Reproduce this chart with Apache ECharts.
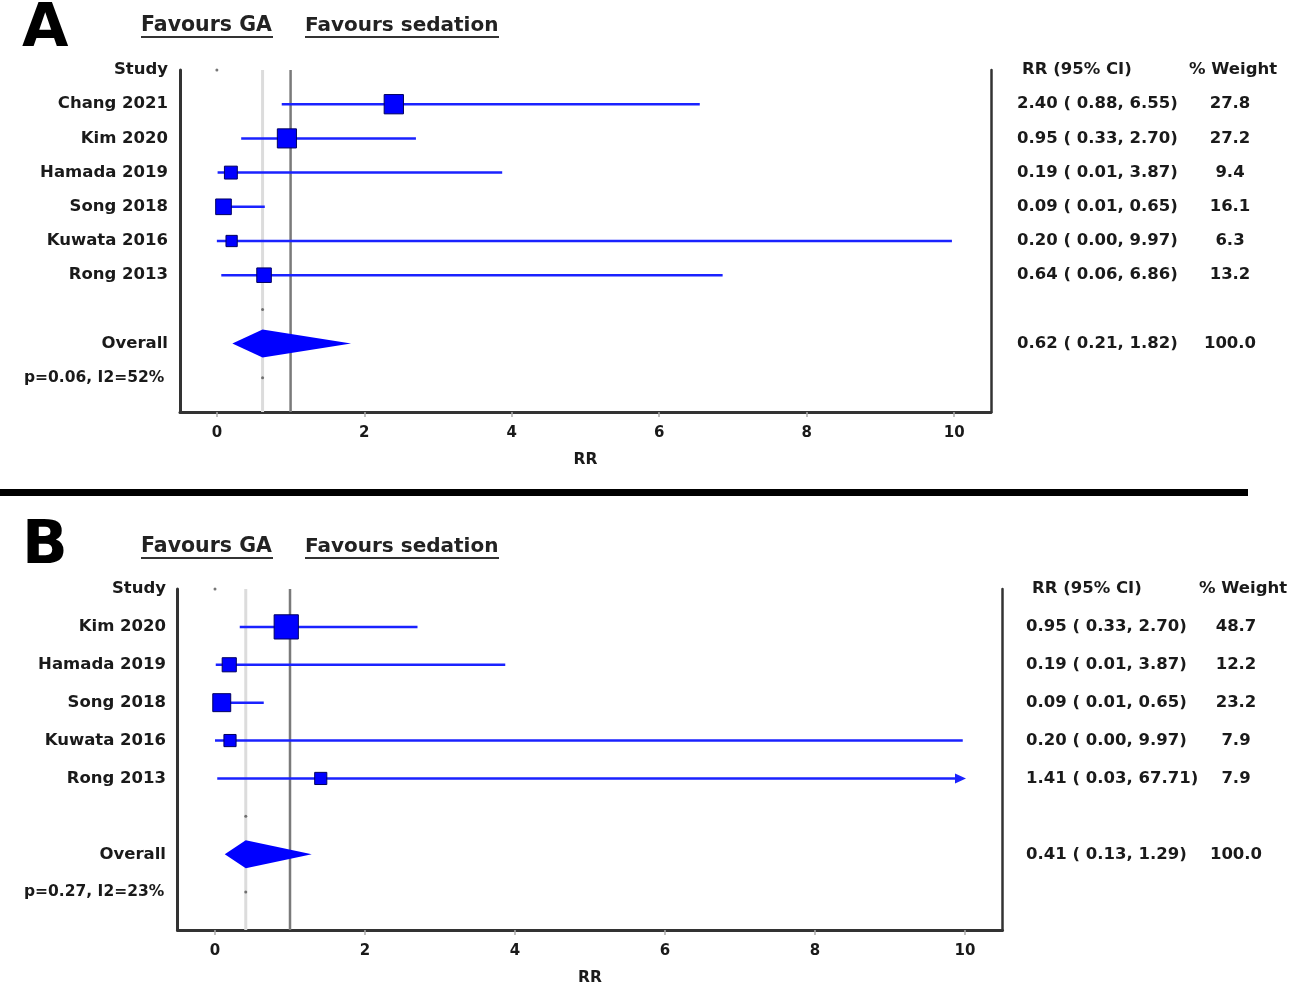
<!DOCTYPE html>
<html><head><meta charset="utf-8">
<script src="https://cdn.jsdelivr.net/npm/echarts@6/dist/echarts.min.js"></script>
<style>html,body{margin:0;padding:0;background:#fff}#c{width:1299px;height:988px}</style>
</head><body><div id="c"></div>
<script>
// ---- Panel A data ----
const studiesA = ['Chang 2021','Kim 2020','Hamada 2019','Song 2018','Kuwata 2016','Rong 2013'];
const rrA     = [2.40, 0.95, 0.19, 0.09, 0.20, 0.64];
const lowA    = [0.88, 0.33, 0.01, 0.01, 0.00, 0.06];
const highA   = [6.55, 2.70, 3.87, 0.65, 9.97, 6.86];
const weightA = [27.8, 27.2, 9.4, 16.1, 6.3, 13.2];
const overallA = [0.62, 0.21, 1.82];   // RR, low, high
const overallWeightA = 100.0;
const hetA = 'p=0.06, I2=52%';

// ---- Panel B data ----
const studiesB = ['Kim 2020','Hamada 2019','Song 2018','Kuwata 2016','Rong 2013'];
const rrB     = [0.95, 0.19, 0.09, 0.20, 1.41];
const lowB    = [0.33, 0.01, 0.01, 0.00, 0.03];
const highB   = [2.70, 3.87, 0.65, 9.97, 67.71];
const weightB = [48.7, 12.2, 23.2, 7.9, 7.9];
const overallB = [0.41, 0.13, 1.29];
const overallWeightB = 100.0;
const hetB = 'p=0.27, I2=23%';

const xTicks = [0, 2, 4, 6, 8, 10];
const axisTitle = 'RR';
const favLeft = 'Favours GA', favRight = 'Favours sedation';
const colHead1 = 'RR (95% CI)', colHead2 = '% Weight', studyHead = 'Study', overallName = 'Overall';

const FONT = '"DejaVu Sans", "Liberation Sans", Arial, sans-serif';
const TXT = '#1a1a1a';
const BLUE = '#0000ff';
const xMin = -0.5, xMax = 10.5;
const xClip = xTicks[xTicks.length - 1];

function f2(v){ return v.toFixed(2); }
function ciText(r, l, h){ return f2(r) + ' ( ' + f2(l) + ', ' + f2(h) + ')'; }

function makeRows(studies, rr, low, high, w){
  return studies.map((s, i) => [i + 1, rr[i], low[i], high[i], w[i]]);
}

function ciRender(params, api){
  const row = api.value(0), est = api.value(1), lo = api.value(2), hi = api.value(3), w = api.value(4);
  const clipped = hi > xClip;
  const p1 = api.coord([lo, row]);
  const p2 = api.coord([Math.min(hi, xClip), row]);
  const pc = api.coord([est, row]);
  const size = 4 + 2.9 * Math.sqrt(w);
  const children = [{
    type: 'line',
    shape: {x1: p1[0], y1: p1[1], x2: p2[0] - (clipped ? 6 : 0), y2: p2[1]},
    style: {stroke: '#1a22ff', lineWidth: 2.5}
  }];
  if (clipped) {
    children.push({type: 'polygon',
      shape: {points: [[p2[0] + 1, p2[1]], [p2[0] - 10, p2[1] - 5], [p2[0] - 10, p2[1] + 5]]},
      style: {fill: '#1a22ff'}});
  }
  children.push({type: 'rect',
    shape: {x: pc[0] - size / 2, y: pc[1] - size / 2, width: size, height: size},
    style: {fill: BLUE, stroke: '#000060', lineWidth: 1}});
  return {type: 'group', children};
}

function diamondRender(params, api){
  const row = api.value(0);
  const pl = api.coord([api.value(2), row]);
  const pc = api.coord([api.value(1), row]);
  const pr = api.coord([api.value(3), row]);
  const h = 14;
  return {type: 'polygon',
    shape: {points: [[pl[0], pl[1]], [pc[0], pc[1] - h], [pr[0], pr[1]], [pc[0], pc[1] + h]]},
    style: {fill: BLUE}};
}

const panels = [
  {studies: studiesA, rr: rrA, low: lowA, high: highA, w: weightA, ov: overallA, ovw: overallWeightA, het: hetA,
   grid: {left: 180, top: 70, width: 811, height: 342}, yMax: 10},
  {studies: studiesB, rr: rrB, low: lowB, high: highB, w: weightB, ov: overallB, ovw: overallWeightB, het: hetB,
   grid: {left: 177.5, top: 589, width: 825, height: 341}, yMax: 9}
];

const grid = [], xAxis = [], yAxis = [], series = [];
panels.forEach((p, gi) => {
  const n = p.studies.length;
  const ovRow = n + 2, hetRow = n + 3, blankRow = n + 1;
  grid.push(p.grid);
  xAxis.push({
    type: 'value', gridIndex: gi, min: xMin, max: xMax, position: 'bottom',
    axisLine: {show: true, onZero: false, lineStyle: {color: '#333', width: 3}},
    axisTick: {show: true, customValues: xTicks, length: 5, lineStyle: {color: '#aaa', width: 1.5}},
    axisLabel: {show: true, customValues: xTicks, color: TXT, fontFamily: FONT, fontWeight: 'bold', fontSize: 15, margin: 14},
    splitLine: {show: false},
    name: axisTitle, nameLocation: 'middle', nameGap: 40,
    nameTextStyle: {color: TXT, fontFamily: FONT, fontWeight: 'bold', fontSize: 15.5}
  });
  yAxis.push({
    type: 'value', gridIndex: gi, inverse: true, min: 0, max: p.yMax, position: 'left',
    axisLine: {show: true, onZero: false, lineStyle: {color: '#333', width: 3}},
    axisTick: {show: false}, axisLabel: {show: false}, splitLine: {show: false}
  });
  yAxis.push({
    type: 'value', gridIndex: gi, inverse: true, min: 0, max: p.yMax, position: 'right',
    axisLine: {show: true, onZero: false, lineStyle: {color: '#333', width: 2.5}},
    axisTick: {show: false}, axisLabel: {show: false}, splitLine: {show: false}
  });
  const yi = gi * 2;
  // overall estimate vertical line (light)
  series.push({type: 'line', xAxisIndex: gi, yAxisIndex: yi, symbol: 'none', silent: true, z: 1,
    data: [[p.ov[0], 0], [p.ov[0], p.yMax]], lineStyle: {color: '#dcdcdc', width: 3}});
  // null line at 1
  series.push({type: 'line', xAxisIndex: gi, yAxisIndex: yi, symbol: 'none', silent: true, z: 1,
    data: [[1, 0], [1, p.yMax]], lineStyle: {color: '#7a7a7a', width: 2.5}});
  // small marker dots
  series.push({type: 'scatter', xAxisIndex: gi, yAxisIndex: yi, symbolSize: 3, silent: true, z: 2,
    itemStyle: {color: '#555'},
    data: [[0, 0], [p.ov[0], blankRow], [p.ov[0], hetRow]]});
  // studies
  series.push({type: 'custom', xAxisIndex: gi, yAxisIndex: yi, renderItem: ciRender, clip: false, z: 5,
    encode: {x: [1, 2, 3], y: 0},
    data: makeRows(p.studies, p.rr, p.low, p.high, p.w)});
  // overall diamond
  series.push({type: 'custom', xAxisIndex: gi, yAxisIndex: yi, renderItem: diamondRender, z: 5,
    encode: {x: [1, 2, 3], y: 0},
    data: [[ovRow, p.ov[0], p.ov[1], p.ov[2]]]});
});

const chart = echarts.init(document.getElementById('c'), null, {renderer: 'canvas'});
chart.setOption({animation: false, backgroundColor: '#fff', grid, xAxis, yAxis, series});

// ---- texts placed through the axes' scales ----
const g = [];
function txt(x, y, s, opt){
  g.push(Object.assign({type: 'text', x, y, silent: true,
    style: Object.assign({text: s, fill: TXT, font: 'bold 16.5px ' + FONT, textVerticalAlign: 'middle'}, opt || {})}));
}
const layout = [
  {letter: 'A', letterY: 30, favY: 26, nameRight: 168, ciX: 1017, headCiX: 1022, wX: 1230, headWX: 1233},
  {letter: 'B', letterY: 547, favY: 547, nameRight: 166, ciX: 1026, headCiX: 1032, wX: 1236, headWX: 1243}
];
panels.forEach((p, gi) => {
  const L = layout[gi];
  const n = p.studies.length;
  const yOf = r => chart.convertToPixel({xAxisIndex: gi, yAxisIndex: gi * 2}, [0, r])[1];
  // panel letter
  txt(22, L.letterY, L.letter, {font: 'bold 60px ' + FONT, fill: '#000'});
  // favours headings with underline
  txt(141, L.favY, favLeft, {font: 'bold 20.5px ' + FONT, fill: '#222'});
  txt(305, L.favY, favRight, {font: 'bold 20px ' + FONT, fill: '#222'});
  g.push({type: 'rect', silent: true, shape: {x: 141, y: L.favY + 10, width: 132, height: 2}, style: {fill: '#333'}});
  g.push({type: 'rect', silent: true, shape: {x: 305, y: L.favY + 10, width: 194, height: 2}, style: {fill: '#333'}});
  // headers
  txt(L.nameRight, yOf(0), studyHead, {textAlign: 'right'});
  txt(L.headCiX, yOf(0), colHead1);
  txt(L.headWX, yOf(0), colHead2, {textAlign: 'center'});
  // study rows
  p.studies.forEach((s, i) => {
    const y = yOf(i + 1);
    txt(L.nameRight, y, s, {textAlign: 'right'});
    txt(L.ciX, y, ciText(p.rr[i], p.low[i], p.high[i]));
    txt(L.wX, y, p.w[i].toFixed(1), {textAlign: 'center'});
  });
  // overall
  const yo = yOf(n + 2);
  txt(L.nameRight, yo, overallName, {textAlign: 'right'});
  txt(L.ciX, yo, ciText(p.ov[0], p.ov[1], p.ov[2]));
  txt(L.wX, yo, p.ovw.toFixed(1), {textAlign: 'center'});
  // heterogeneity
  txt(24, yOf(n + 3), p.het, {font: 'bold 15.5px ' + FONT});
});
// separator bar
g.push({type: 'rect', silent: true, shape: {x: 0, y: 489, width: 1248, height: 7}, style: {fill: '#000'}});
chart.setOption({graphic: g});
</script>
</body></html>
